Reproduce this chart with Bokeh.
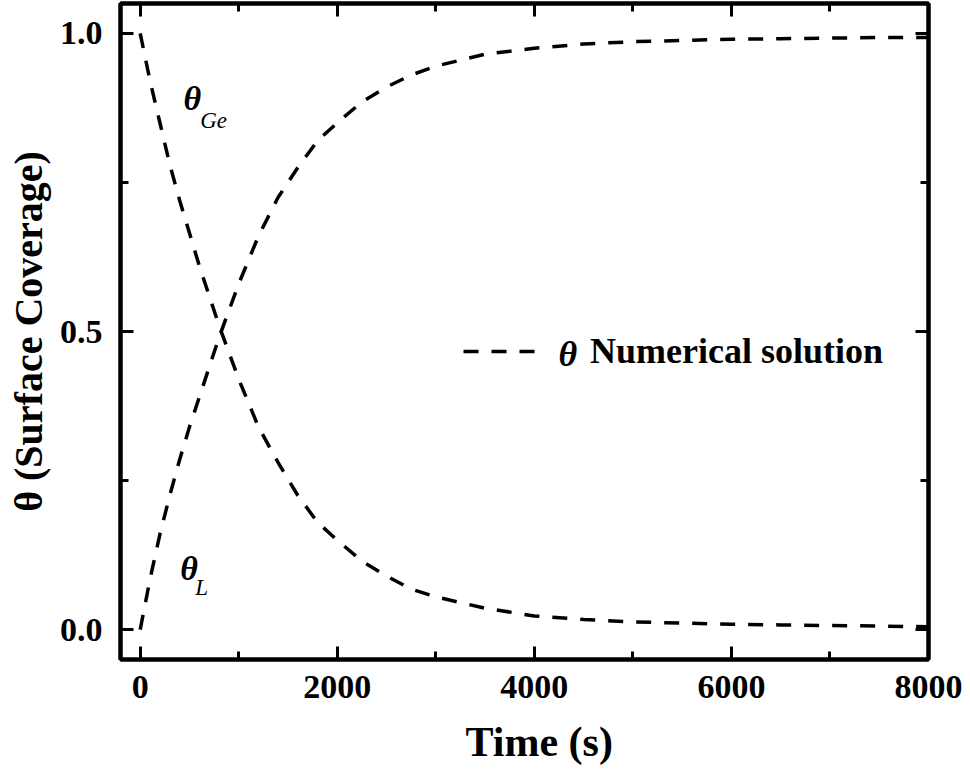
from bokeh.plotting import figure
from bokeh.models import (Range1d, FixedTicker, NumeralTickFormatter, LinearAxis,
                          Label, Legend, LegendItem, CustomJSTickFormatter, Title)
from bokeh.embed import file_html
from bokeh.resources import INLINE

# ---- data ----
time_s = [0, 100, 200, 300, 400, 500, 600, 700, 800, 900, 1000, 1200, 1400, 1600,
          1800, 2000, 2250, 2500, 2750, 3000, 3500, 4000, 4500, 5000, 5500, 6000,
          6500, 7000, 7500, 8000]
theta_ge = [1.0, 0.92, 0.85, 0.78, 0.72, 0.665, 0.61, 0.56, 0.51, 0.465, 0.42, 0.34,
            0.28, 0.225, 0.18, 0.15, 0.115, 0.09, 0.068, 0.055, 0.036, 0.023, 0.017,
            0.013, 0.011, 0.009, 0.008, 0.007, 0.006, 0.005]
theta_l = [0.0, 0.085, 0.16, 0.225, 0.285, 0.34, 0.39, 0.44, 0.49, 0.535, 0.58, 0.66,
           0.725, 0.775, 0.82, 0.85, 0.885, 0.91, 0.93, 0.945, 0.965, 0.975, 0.982,
           0.986, 0.988, 0.99, 0.991, 0.992, 0.993, 0.993]
x_ticks = [0, 2000, 4000, 6000, 8000]
x_minor = [1000, 3000, 5000, 7000]
y_ticks = [0.0, 0.5, 1.0]
y_minor = [0.25, 0.75]

SERIF = "Liberation Serif"

p = figure(frame_width=808, frame_height=656, output_backend="svg",
           toolbar_location=None, x_range=Range1d(-200, 8000),
           y_range=Range1d(-0.05, 1.05),
           min_border_left=120, min_border_right=35, min_border_top=3,
           min_border_bottom=112)
p.grid.visible = False
p.outline_line_color = "black"
p.outline_line_width = 4
p.background_fill_color = "white"
p.border_fill_color = "white"

dash = "15 13"
r1 = p.line(time_s, theta_ge, line_color="black", line_width=3.5, line_dash=dash)
r2 = p.line(time_s, theta_l, line_color="black", line_width=3.5, line_dash=dash)

xt = FixedTicker(ticks=x_ticks, minor_ticks=x_minor)
yt = FixedTicker(ticks=y_ticks, minor_ticks=y_minor)

def style_axis(ax, labels=True):
    ax.axis_line_width = 4
    ax.axis_line_color = "black"
    ax.major_tick_in = 13
    ax.major_tick_out = 0
    ax.minor_tick_in = 8
    ax.minor_tick_out = 0
    ax.major_tick_line_width = 3
    ax.minor_tick_line_width = 3
    ax.major_tick_line_color = "black"
    ax.minor_tick_line_color = "black"
    if labels:
        ax.major_label_text_font = SERIF
        ax.major_label_text_font_style = "bold"
        ax.major_label_text_font_size = "34px"
        ax.major_label_text_color = "black"
    else:
        ax.major_label_text_font_size = "0px"
        ax.major_label_standoff = 0
        ax.formatter = CustomJSTickFormatter(code="return ''")

xa = p.xaxis[0]
xa.ticker = xt
style_axis(xa)
xa.major_label_standoff = 16

ya = p.yaxis[0]
ya.ticker = yt
ya.formatter = NumeralTickFormatter(format="0.0")
style_axis(ya)
ya.major_label_standoff = 18
ya.axis_label = "θ (Surface Coverage)"
ya.axis_label_text_font = SERIF
ya.axis_label_text_font_style = "bold"
ya.axis_label_text_font_size = "40px"
ya.axis_label_text_color = "black"
ya.axis_label_standoff = 6

top = LinearAxis(ticker=FixedTicker(ticks=x_ticks, minor_ticks=x_minor))
style_axis(top, labels=False)
p.add_layout(top, "above")
right = LinearAxis(ticker=FixedTicker(ticks=y_ticks, minor_ticks=y_minor))
style_axis(right, labels=False)
p.add_layout(right, "right")

# x-axis title (shifted right like the reference)
p.add_layout(Title(text="Time (s)", align="left", offset=345, text_font=SERIF,
                   text_font_size="42px", text_font_style="bold",
                   text_color="black", standoff=32), "below")

# ---- curve labels ----
def lab(x, y, text, size, style):
    p.add_layout(Label(x=x, y=y, text=text, text_font=SERIF, text_font_size=size,
                       text_font_style=style, text_color="black", text_align="left",
                       text_baseline="alphabetic"))

lab(440, 0.891, "θ", "34px", "bold italic")
lab(609, 0.854, "Ge", "23px", "italic")
lab(406, 0.103, "θ", "34px", "bold italic")
lab(558, 0.070, "L", "23px", "italic")

# legend
legend = Legend(items=[LegendItem(label="Numerical solution", renderers=[r1])],
                location=(343, 287), padding=0, margin=0, border_line_color=None,
                background_fill_alpha=0, glyph_width=72, glyph_height=36,
                label_height=36, label_standoff=55, label_text_font=SERIF,
                label_text_font_style="bold", label_text_font_size="36px",
                label_text_color="black")
p.add_layout(legend, "center")
lab(4245, 0.463, "θ", "36px", "bold italic")

open("out.html", "w").write(file_html(p, INLINE))
